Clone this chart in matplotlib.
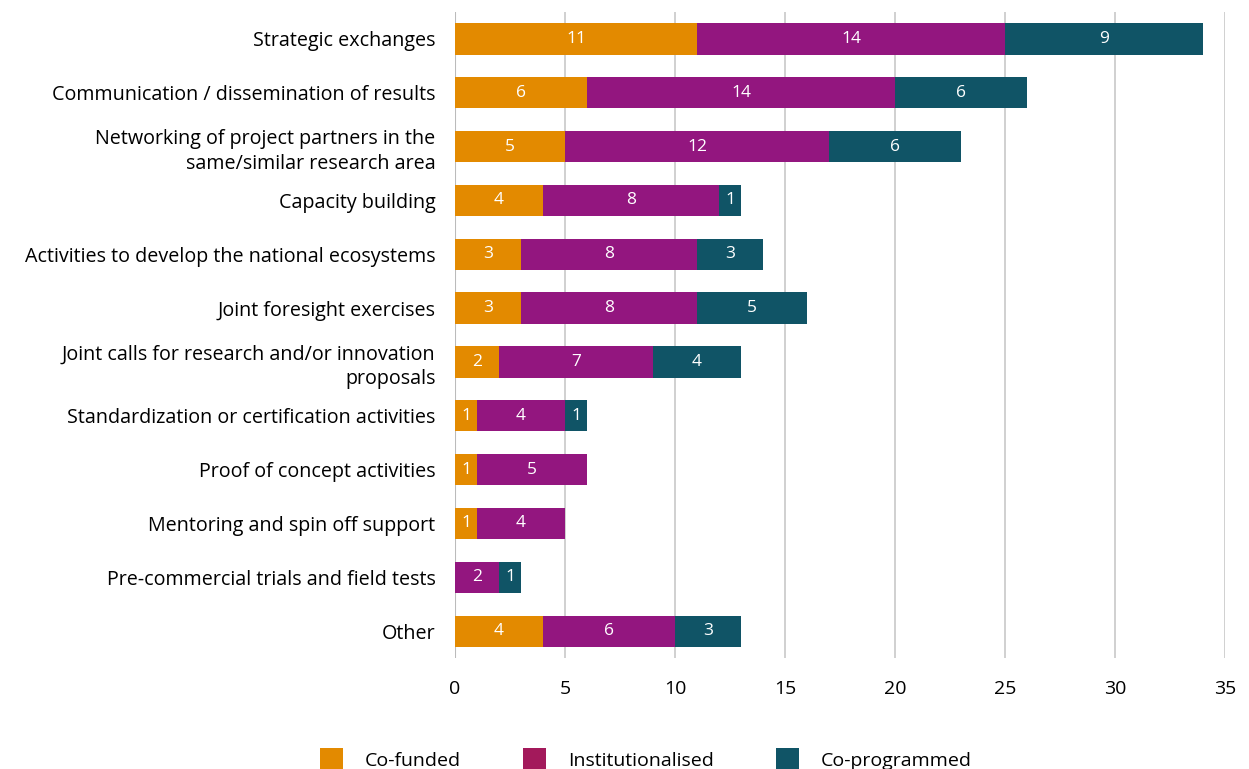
import matplotlib
matplotlib.use("Agg")
import matplotlib.pyplot as plt
from matplotlib.patches import Patch
import numpy as np

plt.rcParams['font.family'] = ['Open Sans', 'DejaVu Sans']

categories = [
    "Strategic exchanges",
    "Communication / dissemination of results",
    "Networking of project partners in the\nsame/similar research area",
    "Capacity building",
    "Activities to develop the national ecosystems",
    "Joint foresight exercises",
    "Joint calls for research and/or innovation\nproposals",
    "Standardization or certification activities",
    "Proof of concept activities",
    "Mentoring and spin off support",
    "Pre-commercial trials and field tests",
    "Other",
]
co_funded = [11, 6, 5, 4, 3, 3, 2, 1, 1, 1, 0, 4]
institutionalised = [14, 14, 12, 8, 8, 8, 7, 4, 5, 4, 2, 6]
co_programmed = [9, 6, 6, 1, 3, 5, 4, 1, 0, 0, 1, 3]

series = [
    ("Co-funded", co_funded, "#E38A00", "#E38A00"),
    ("Institutionalised", institutionalised, "#93167F", "#A3195B"),
    ("Co-programmed", co_programmed, "#105466", "#105466"),
]

fig = plt.figure(figsize=(12.49, 7.69), dpi=100)
ax = fig.add_axes([0.3643, 0.1443, 0.6165, 0.8401])

y = np.arange(len(categories))
left = np.zeros(len(categories))
for name, vals, color, _ in series:
    vals = np.array(vals, dtype=float)
    ax.barh(y, vals, left=left, height=0.58, color=color, zorder=3)
    for yi, (l, v) in enumerate(zip(left, vals)):
        if v > 0:
            ax.text(l + v / 2, yi, f"{int(v)}", ha="center", va="center",
                    color="white", fontsize=12.5, zorder=4)
    left += vals

ax.set_xlim(0, 35)
ax.set_ylim(len(categories) - 0.5, -0.5)
ax.set_xticks(range(0, 36, 5))
ax.set_yticks(y)
ax.set_yticklabels(categories, fontsize=14.2, linespacing=1.3)
ax.tick_params(axis="x", labelsize=14, length=0, pad=16)
ax.tick_params(axis="y", length=0, pad=14)
ax.grid(axis="x", color="#c8c8c8", linewidth=1.2, zorder=0)
for s in ax.spines.values():
    s.set_visible(False)
ax.axvline(0, color="#bbbbbb", linewidth=1.5, zorder=2)

handles = [Patch(facecolor=lc, label=name) for name, _, _, lc in series]
fig.legend(handles=handles, loc="center", bbox_to_anchor=(0.517, 0.012),
           ncol=3, frameon=False, fontsize=14, handlelength=1.2,
           handleheight=1.5, columnspacing=3.2, handletextpad=1.1)

fig.savefig("out.png", dpi=100)
